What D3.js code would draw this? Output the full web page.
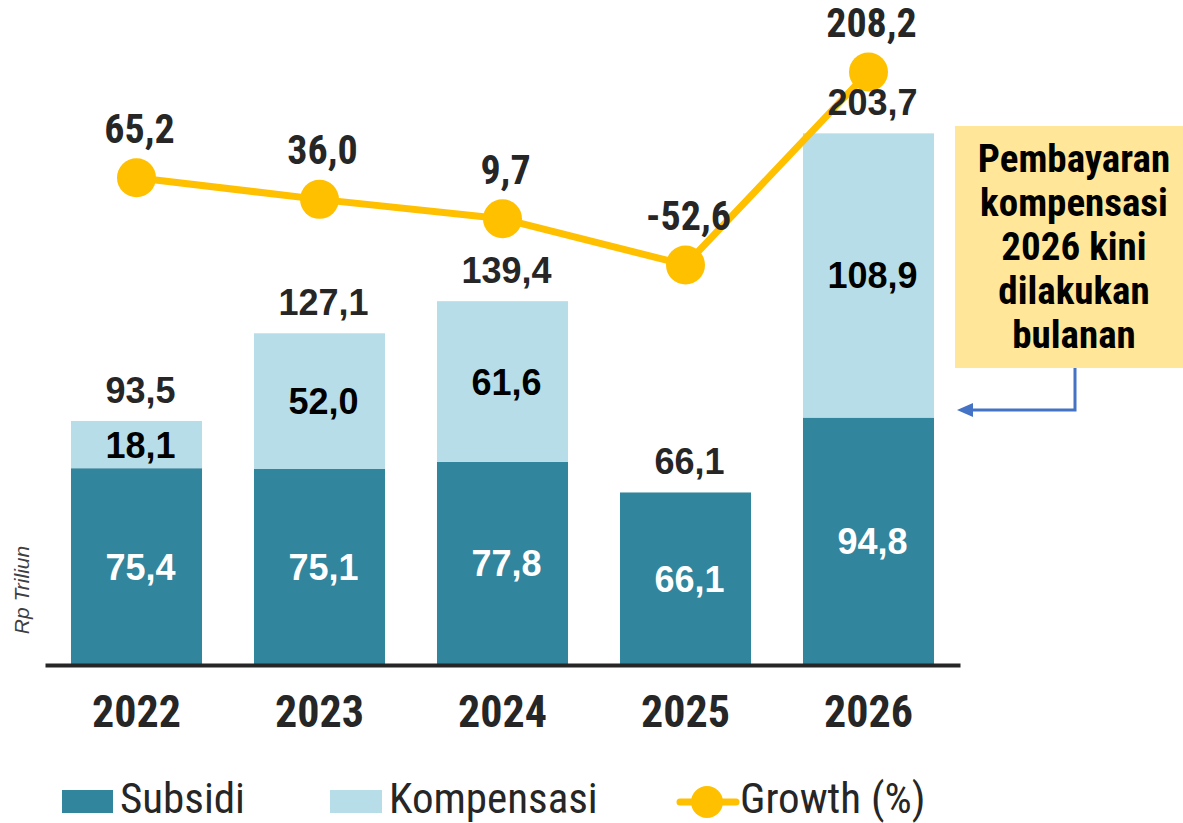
<!DOCTYPE html>
<html>
<head>
<meta charset="utf-8">
<script src="https://cdn.jsdelivr.net/npm/d3@7"></script>
<style>
  html, body { margin: 0; padding: 0; background: #ffffff; }
  svg { display: block; }
</style>
</head>
<body>
<svg id="chart" width="1183" height="823"></svg>
<script>
// Subsidi & kompensasi energi (Rp triliun) dan pertumbuhannya
const years = ["2022", "2023", "2024", "2025", "2026"];
const subsidi = [75.4, 75.1, 77.8, 66.1, 94.8];
const kompensasi = [18.1, 52.0, 61.6, 0, 108.9];
const growth = [65.2, 36.0, 9.7, -52.6, 208.2];
const legendLabels = ["Subsidi", "Kompensasi", "Growth (%)"];
const noteLines = ["Pembayaran", "kompensasi", "2026 kini", "dilakukan", "bulanan"];
const unitLabel = "Rp Triliun";

const C_SUB = "#31859C", C_KOMP = "#B7DEE8", C_GROW = "#FFC000", C_TXT = "#262626";
const NARROW = '"Liberation Sans Narrow", "Roboto Condensed", "Arial Narrow", sans-serif';
const WIDE = '"Liberation Sans", Arial, sans-serif';

const locale = d3.formatLocale({ decimal: ",", thousands: ".", grouping: [3], currency: ["", ""], minus: "-" });
const fmt = locale.format(".1f");

const rows = years.map((y, i) => ({
  year: y, subsidi: subsidi[i], kompensasi: kompensasi[i],
  total: subsidi[i] + kompensasi[i], growth: growth[i]
}));

const svg = d3.select("#chart");

const x = d3.scaleBand().domain(years).range([45, 960]).paddingInner(0.284).paddingOuter(0.142);
const y = d3.scaleLinear().domain([0, 250]).range([665, 12.5]);
const yG = d3.scaleLinear().domain([-100, 250]).range([300, 41]);

// stacked bars
const stack = d3.stack().keys(["subsidi", "kompensasi"])(rows);
const colors = { subsidi: C_SUB, kompensasi: C_KOMP };
stack.forEach(layer => {
  svg.append("g").selectAll("rect").data(layer).join("rect")
    .attr("x", d => x(d.data.year))
    .attr("width", x.bandwidth())
    .attr("y", d => y(d[1]))
    .attr("height", d => y(d[0]) - y(d[1]))
    .attr("fill", colors[layer.key]);
});

// x axis
const axis = svg.append("g").attr("transform", "translate(0,665)")
  .call(d3.axisBottom(x).tickSize(0).tickPadding(0));
axis.select(".domain").attr("stroke", C_TXT).attr("stroke-width", 4);
axis.selectAll(".tick text")
  .attr("y", 62).attr("dy", 0)
  .attr("fill", C_TXT)
  .style("font-family", NARROW).style("font-weight", "bold").style("font-size", "44px");

// labels inside segments
const inner = svg.append("g").style("font-family", WIDE).style("font-weight", "bold").style("font-size", "36px")
  .attr("text-anchor", "middle");
rows.forEach(d => {
  const cx = x(d.year) + x.bandwidth() / 2 + 4;
  inner.append("text").attr("x", cx).attr("y", (y(0) + y(d.subsidi)) / 2)
    .attr("dy", "0.36em").attr("fill", "#ffffff").text(fmt(d.subsidi));
  if (d.kompensasi > 0) {
    inner.append("text").attr("x", cx).attr("y", (y(d.subsidi) + y(d.total)) / 2)
      .attr("dy", "0.36em").attr("fill", "#000000").text(fmt(d.kompensasi));
  }
});

// growth line
const line = d3.line().x(d => x(d.year) + x.bandwidth() / 2).y(d => yG(d.growth));
svg.append("path").datum(rows).attr("d", line)
  .attr("fill", "none").attr("stroke", C_GROW).attr("stroke-width", 7);
svg.append("g").selectAll("circle").data(rows).join("circle")
  .attr("cx", d => x(d.year) + x.bandwidth() / 2)
  .attr("cy", d => yG(d.growth))
  .attr("r", 19.5).attr("fill", C_GROW);

// totals above bars
svg.append("g").selectAll("text").data(rows).join("text")
  .attr("x", d => x(d.year) + x.bandwidth() / 2 + 4)
  .attr("y", d => y(d.total) - 18)
  .attr("text-anchor", "middle").attr("fill", C_TXT)
  .style("font-family", WIDE).style("font-weight", "bold").style("font-size", "36px")
  .text(d => fmt(d.total));

// growth labels
svg.append("g").selectAll("text").data(rows).join("text")
  .attr("x", d => x(d.year) + x.bandwidth() / 2 + 3)
  .attr("y", d => yG(d.growth) - 35)
  .attr("text-anchor", "middle").attr("fill", C_TXT)
  .style("font-family", NARROW).style("font-weight", "bold").style("font-size", "40px")
  .text(d => fmt(d.growth));

// unit label
svg.append("text")
  .attr("transform", "translate(29,590) rotate(-90)")
  .attr("text-anchor", "middle").attr("fill", "#404040")
  .style("font-family", WIDE).style("font-style", "italic").style("font-size", "21px")
  .text(unitLabel);

// note box with arrow
svg.append("rect").attr("x", 955).attr("y", 126).attr("width", 240).attr("height", 242).attr("fill", "#FFE699");
svg.append("g").attr("text-anchor", "middle").attr("fill", "#000000")
  .style("font-family", NARROW).style("font-weight", "bold").style("font-size", "39px")
  .selectAll("text").data(noteLines).join("text")
  .attr("x", 1074).attr("y", (d, i) => 172 + i * 44).text(d => d);
svg.append("path").attr("d", "M1075,368 V410 H970")
  .attr("fill", "none").attr("stroke", "#4472C4").attr("stroke-width", 3);
svg.append("path").attr("d", "M957,410 L973,403 L973,417 Z").attr("fill", "#4472C4");

// legend
const leg = svg.append("g").style("font-family", NARROW).style("font-size", "43px").attr("fill", C_TXT);
leg.append("rect").attr("x", 62).attr("y", 790).attr("width", 51).attr("height", 23).attr("fill", C_SUB);
leg.append("text").attr("x", 120).attr("y", 813).text(legendLabels[0]);
leg.append("rect").attr("x", 330).attr("y", 790).attr("width", 52).attr("height", 23).attr("fill", C_KOMP);
leg.append("text").attr("x", 389).attr("y", 813).text(legendLabels[1]);
leg.append("line").attr("x1", 680).attr("x2", 736).attr("y1", 802).attr("y2", 802)
  .attr("stroke", C_GROW).attr("stroke-width", 7).attr("stroke-linecap", "round");
leg.append("circle").attr("cx", 707).attr("cy", 802).attr("r", 16).attr("fill", C_GROW);
leg.append("text").attr("x", 740).attr("y", 813).text(legendLabels[2]);
</script>
</body>
</html>
